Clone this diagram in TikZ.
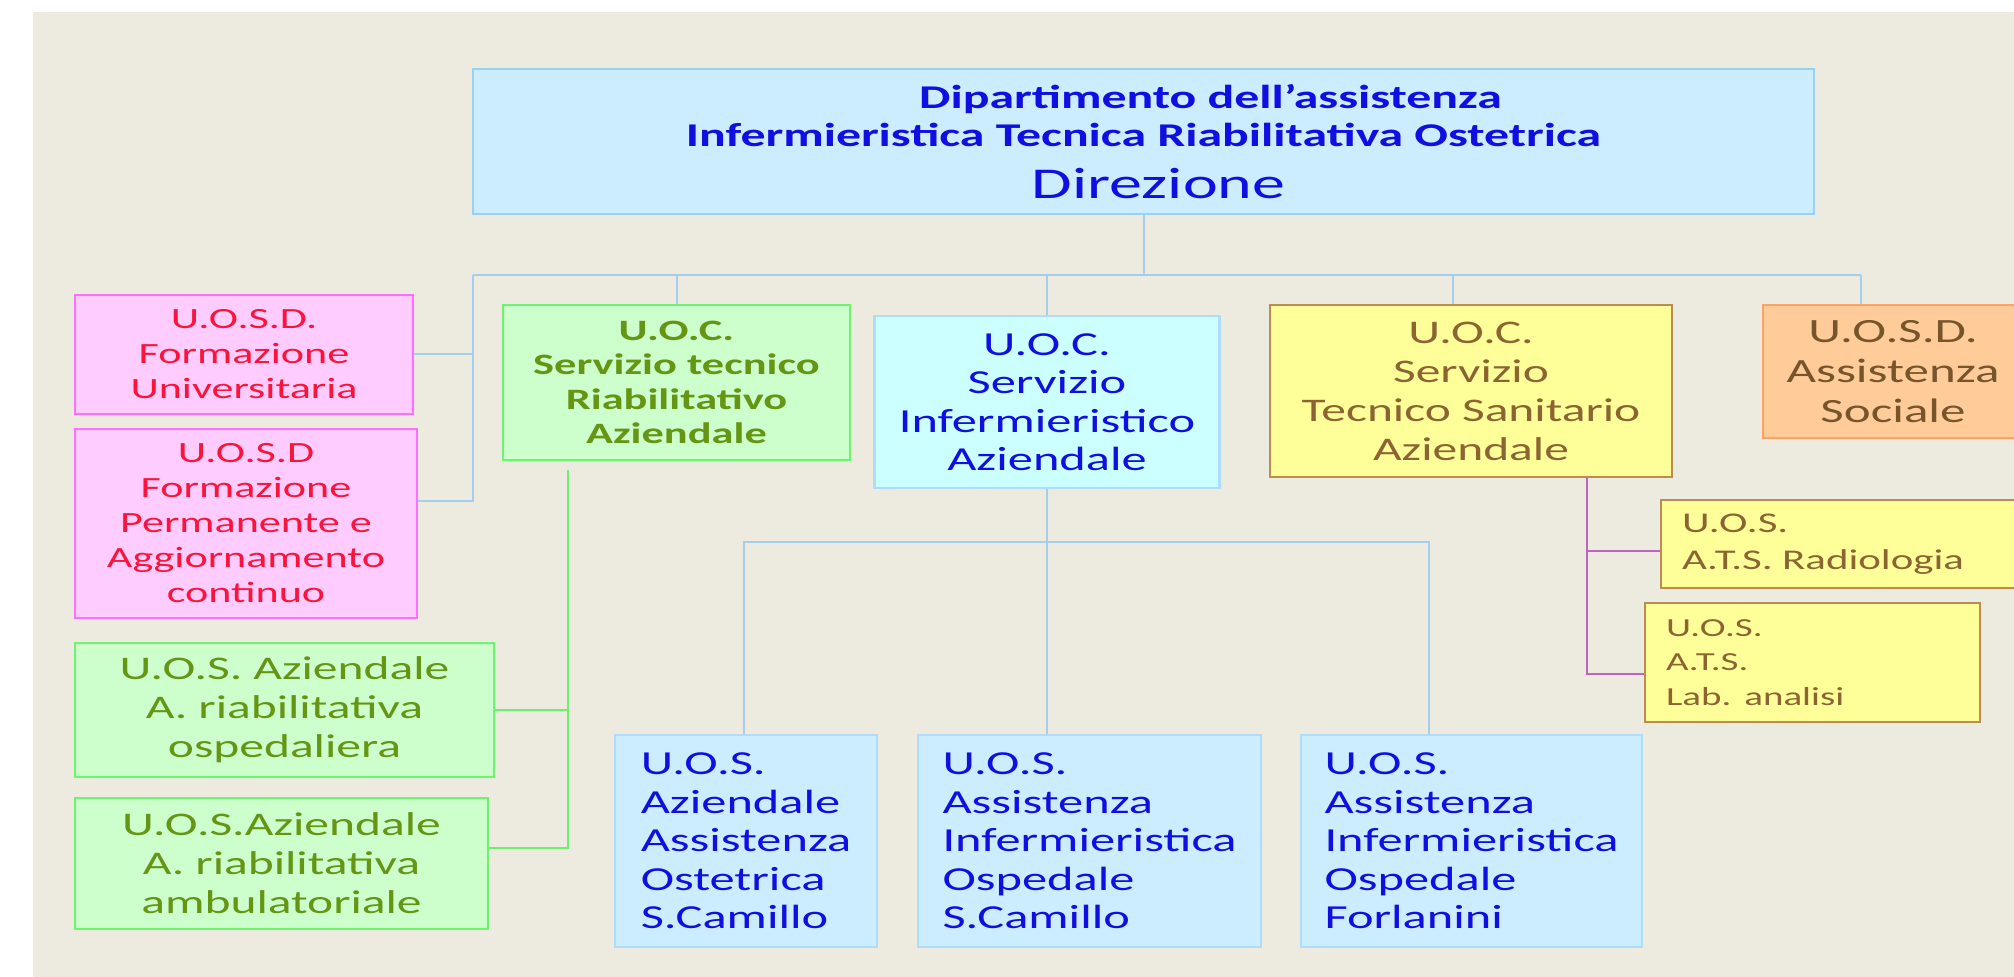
\documentclass[tikz,border=0pt]{standalone}
\usepackage{fontspec}
\setmainfont{Carlito}[FakeStretch=1.5]
\usetikzlibrary{positioning,calc}
\definecolor{bgbeige}{RGB}{237,235,224}
\definecolor{dirfill}{RGB}{204,236,255}
\definecolor{dirline}{RGB}{150,210,245}
\definecolor{txtblue}{RGB}{15,15,225}
\definecolor{pinkfill}{RGB}{255,204,255}
\definecolor{pinkline}{RGB}{255,110,255}
\definecolor{txtred}{RGB}{250,20,60}
\definecolor{greenfill}{RGB}{204,255,204}
\definecolor{greenline}{RGB}{110,245,110}
\definecolor{txtolive}{RGB}{100,150,20}
\definecolor{cyanfill}{RGB}{204,255,255}
\definecolor{cyanline}{RGB}{175,220,250}
\definecolor{yellowfill}{RGB}{255,255,153}
\definecolor{yellowline}{RGB}{190,140,80}
\definecolor{txtbrown}{RGB}{140,100,50}
\definecolor{orangefill}{RGB}{255,204,153}
\definecolor{orangeline}{RGB}{255,160,100}
\definecolor{linkblue}{RGB}{165,205,240}
\definecolor{linkgreen}{RGB}{110,240,110}
\definecolor{linkpurple}{RGB}{190,100,190}
\tikzset{
  orgbox/.style={draw, line width=1.2pt, inner sep=2pt, align=center},
  bluelink/.style={draw=linkblue, line width=1pt},
  greenlink/.style={draw=linkgreen, line width=1pt},
  purplelink/.style={draw=linkpurple, line width=1pt},
}

\begin{document}
\begin{tikzpicture}[
  x=0.5pt, y=-0.5pt,
  pinkbox/.style={orgbox, fill=pinkfill, draw=pinkline, text=txtred, font=\fontsize{14.7pt}{17.5pt}\selectfont},
  riabbox/.style={orgbox, fill=greenfill, draw=greenline, text=txtolive, font=\fontsize{16.5pt}{19.5pt}\selectfont},
  infbox/.style={orgbox, fill=dirfill, draw=cyanline, text=txtblue, align=left, minimum height=106pt, font=\fontsize{16.8pt}{19.2pt}\selectfont},
  tecbox/.style={orgbox, fill=yellowfill, draw=yellowline, text=txtbrown, align=left},
]
  \clip (0,0) rectangle (2014,977);
  \fill[white] (0,0) rectangle (2014,977);
  \fill[bgbeige] (33,12) rectangle (2014,977);

  % direzione
  \node[orgbox, fill=dirfill, draw=dirline, text=txtblue, minimum width=670.5pt, minimum height=72.5pt,
    font=\fontsize{16.6pt}{19.25pt}\selectfont] (dir) at (1143.5,141.5)
    {\hspace*{67pt}\textbf{Dipartimento dell'assistenza}\\
     \textbf{Infermieristica Tecnica Riabilitativa Ostetrica}\\[6.75pt]
     \hspace*{15pt}{\fontsize{22pt}{26pt}\selectfont Direzione}};

  % first level
  \node[pinkbox, minimum width=169pt, minimum height=59.5pt] (uosdUni) at (244,354.5)
    {U.O.S.D.\\Formazione\\Universitaria};
  \node[pinkbox, minimum width=171pt, minimum height=94.5pt] (uosdPerm) at (246,523.5)
    {U.O.S.D\\Formazione\\Permanente e\\Aggiornamento\\continuo};
  \node[riabbox, minimum width=173.5pt, minimum height=77.5pt, font=\bfseries\fontsize{14.8pt}{17.3pt}\selectfont] (uocRiab) at (676.5,382.5)
    {U.O.C.\\Servizio tecnico\\Riabilitativo\\Aziendale};
  \node[orgbox, fill=cyanfill, draw=cyanline, text=txtblue, minimum width=172.5pt, minimum height=86pt,
    font=\fontsize{16.8pt}{19.25pt}\selectfont] (uocInf) at (1047,402)
    {U.O.C.\\Servizio\\Infermieristico\\Aziendale};
  \node[orgbox, fill=yellowfill, draw=yellowline, text=txtbrown, minimum width=201pt, minimum height=86pt,
    font=\fontsize{16.5pt}{19.5pt}\selectfont] (uocTec) at (1471,391)
    {U.O.C.\\Servizio\\Tecnico Sanitario\\Aziendale};
  \node[orgbox, fill=orangefill, draw=orangeline, text=txtbrown!85!black, minimum width=130pt, minimum height=66.5pt,
    font=\fontsize{17pt}{20pt}\selectfont] (uosdSoc) at (1893,371.5)
    {U.O.S.D.\\Assistenza\\Sociale};

  % riabilitativo
  \node[riabbox, minimum width=209.5pt, minimum height=67pt] (uosOsp) at (284.5,710)
    {U.O.S. Aziendale\\A. riabilitativa\\ospedaliera};
  \node[riabbox, minimum width=206.5pt, minimum height=65.5pt] (uosAmb) at (281.5,863.5)
    {U.O.S.Aziendale\\A. riabilitativa\\ambulatoriale};

  % infermieristico
  \node[infbox, minimum width=131pt] (uosOst) at (746,841)
    {U.O.S.\\Aziendale\\Assistenza\\Ostetrica\\S.Camillo};
  \node[infbox, minimum width=171.5pt] (uosSCam) at (1089.5,841)
    {U.O.S.\\Assistenza\\Infermieristica\\Ospedale\\S.Camillo};
  \node[infbox, minimum width=170.5pt] (uosForl) at (1471.5,841)
    {U.O.S.\\Assistenza\\Infermieristica\\Ospedale\\Forlanini};

  % tecnico sanitario
  \node[tecbox, inner xsep=10.5pt, text width=166pt, minimum height=44pt,
    font=\fontsize{14.3pt}{18.5pt}\selectfont] (uosRad) at (1848,544)
    {U.O.S.\\A.T.S. Radiologia};
  \node[tecbox, inner xsep=10.5pt, text width=146.5pt, minimum height=59.5pt,
    font=\fontsize{13pt}{17.3pt}\selectfont] (uosLab) at (1812.5,662.5)
    {U.O.S.\\A.T.S.\\Lab. analisi};

  % connectors
  \coordinate (busL) at (473,275);
  \coordinate (busR) at (1861,275);
  \coordinate (tecTap) at (1453,275);
  \coordinate (permTap) at (473,501);
  \coordinate (riabTop) at (568,470);
  \coordinate (riabBot) at (568,848);
  \coordinate (infL) at (744,542);
  \coordinate (infR) at (1429,542);
  \coordinate (radTap) at (1587,551);
  \coordinate (labTap) at (1587,674);

  \draw[bluelink] (busL) -- (busR);
  \draw[bluelink] (dir.south) -- (dir.south |- busL);
  \draw[bluelink] (uocRiab.north) -- (uocRiab.north |- busL);
  \draw[bluelink] (uocInf.north) -- (uocInf.north |- busL);
  \draw[bluelink] (tecTap) -- (tecTap |- uocTec.north);
  \draw[bluelink] (busR) -- (busR |- uosdSoc.north);
  \draw[bluelink] (uosdUni.east) -- (uosdUni.east -| busL);
  \draw[bluelink] (busL) -- (permTap) -- (permTap -| uosdPerm.east);

  \draw[greenlink] (riabTop) -- (riabBot) -- (riabBot -| uosAmb.east);
  \draw[greenlink] (riabTop |- uosOsp.east) -- (uosOsp.east);

  \draw[bluelink] (uocInf.south) -- (uocInf.south |- uosSCam.north);
  \draw[bluelink] (infL |- uosOst.north) -- (infL) -- (infR) -- (infR |- uosForl.north);

  \draw[purplelink] (uocTec.south -| labTap) -- (labTap) -- (labTap -| uosLab.west);
  \draw[purplelink] (radTap) -- (radTap -| uosRad.west);
\end{tikzpicture}
\end{document}
